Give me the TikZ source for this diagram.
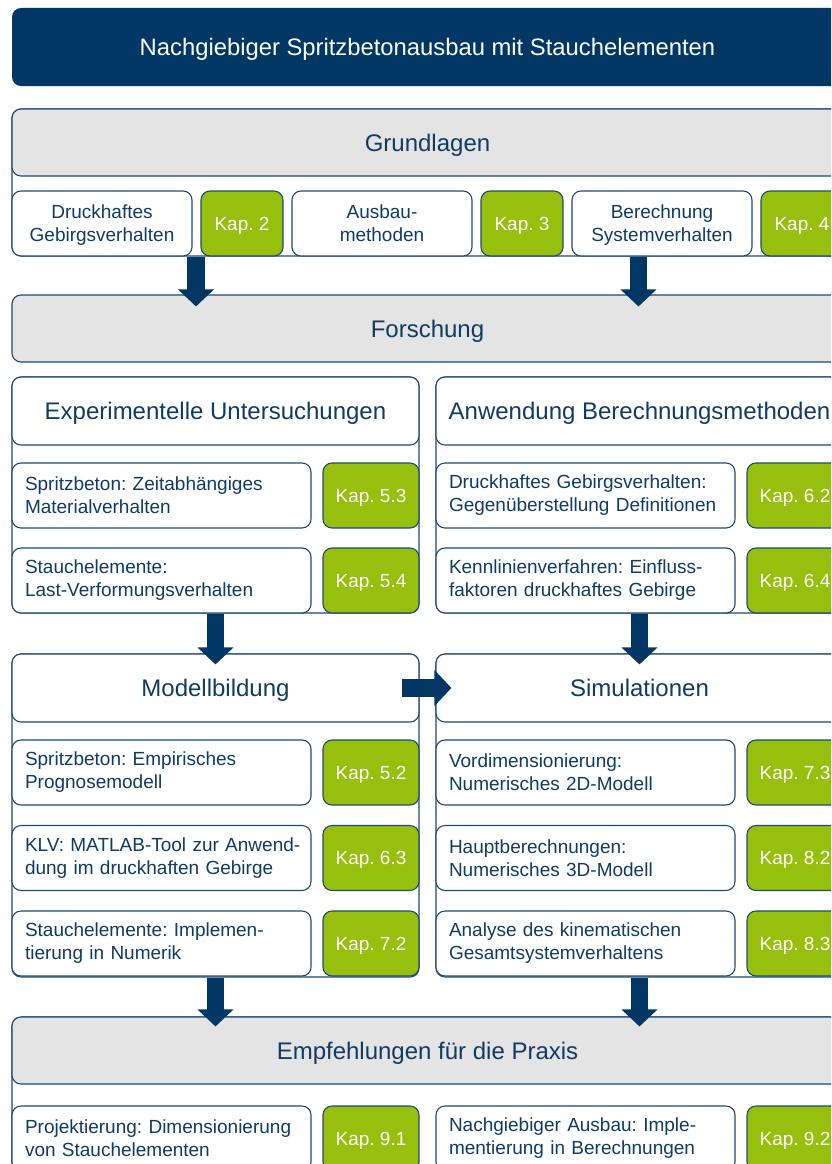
\documentclass[tikz,border=0pt]{standalone}
\usepackage{fontspec}
\setmainfont{Liberation Sans}
\usetikzlibrary{arrows.meta,calc}

\definecolor{navy}{HTML}{003764}
\definecolor{ink}{HTML}{0F3B64}
\definecolor{rim}{HTML}{1E4B73}
\definecolor{panel}{HTML}{E4E4E4}
\definecolor{kapgreen}{HTML}{97BF0D}

\tikzset{
  every node/.style={font=\fontsize{19}{23}\selectfont, text=ink},
  titlebox/.style={fill=navy, rounded corners=9pt, text=white, inner sep=0pt,
    minimum width=831pt, minimum height=78pt, text depth=0pt,
    font=\fontsize{23.8}{28}\selectfont},
  frame/.style={draw=rim, line width=1.1pt, rounded corners=9pt, fill=white, inner sep=0pt},
  headbox/.style={draw=rim, line width=1.1pt, rounded corners=9pt, fill=panel,
    inner sep=0pt, text depth=0pt, font=\fontsize{24}{28}\selectfont},
  colhead/.style={headbox, fill=white, minimum width=407pt, minimum height=68pt},
  topicbox/.style={draw=rim, line width=1.1pt, rounded corners=9pt, fill=white,
    minimum height=65pt, inner sep=0pt},
  basebox/.style={topicbox, minimum width=180pt, align=center, text depth=-1pt},
  leftbox/.style={topicbox, text width=273pt, align=left, inner xsep=13pt},
  kapbox/.style={draw=rim, line width=1.1pt, rounded corners=9pt, fill=kapgreen,
    text=white, minimum height=65pt, inner sep=0pt, text depth=-0.5pt},
  kapwide/.style={kapbox, minimum width=96pt},
  kapnarrow/.style={kapbox, minimum width=82pt},
  bigarrow/.style={navy, line width=17.5pt, -{Triangle[length=17pt,width=35pt]}},
}

\begin{document}
\frenchspacing
\begin{tikzpicture}[x=1pt, y=-1pt]
\useasboundingbox (0,0) rectangle (831,1164);
\clip (0,0) rectangle (831,1164);

% title bar
\node[titlebox] (title) at (427.5,47) {Nachgiebiger Spritzbetonausbau mit Stauchelementen};

% Grundlagen
\node[frame, minimum width=831pt, minimum height=147pt] (fgrund) at (427.5,182.5) {};
\node[headbox, minimum width=831pt, minimum height=67pt] (grund) at (427.5,142.5) {Grundlagen};
\node[basebox] (b1) at (102,223.5) {Druckhaftes\\Gebirgsverhalten};
\node[kapnarrow] (k2) at (242,223.5) {Kap. 2};
\node[basebox] (b2) at (382,223.5) {Ausbau-\\methoden};
\node[kapnarrow] (k3) at (522,223.5) {Kap. 3};
\node[basebox] (b3) at (662,223.5) {Berechnung\\Systemverhalten};
\node[kapnarrow] (k4) at (802,223.5) {Kap. 4};

% Forschung
\node[headbox, minimum width=831pt, minimum height=67pt] (forsch) at (427.5,328.5) {Forschung};

% Experimentelle Untersuchungen
\node[frame, minimum width=407pt, minimum height=236pt] (fexp) at (215.5,495) {};
\node[colhead] (exp) at (215.5,411) {Experimentelle Untersuchungen};
\node[leftbox] (e1) at (161.5,495.5) {\mbox{Spritzbeton: Zeitabhängiges}\\\mbox{Materialverhalten}};
\node[kapwide] (k53) at (371,495.5) {Kap. 5.3};
\node[leftbox] (e2) at (161.5,580.5) {\mbox{Stauchelemente:}\\\mbox{Last-Verformungsverhalten}};
\node[kapwide] (k54) at (371,580.5) {Kap. 5.4};

% Anwendung Berechnungsmethoden
\node[frame, minimum width=407pt, minimum height=236pt] (fanw) at (639.5,495) {};
\node[colhead] (anw) at (639.5,411) {Anwendung Berechnungsmethoden};
\node[leftbox] (w1) at (585.5,495.5) {\mbox{Druckhaftes Gebirgsverhalten:}\\\mbox{Gegenüberstellung Definitionen}};
\node[kapwide] (k62) at (795,495.5) {Kap. 6.2};
\node[leftbox] (w2) at (585.5,580.5) {\mbox{Kennlinienverfahren: Einfluss-}\\\mbox{faktoren druckhaftes Gebirge}};
\node[kapwide] (k64) at (795,580.5) {Kap. 6.4};

% Modellbildung
\node[frame, minimum width=407pt, minimum height=323pt] (fmod) at (215.5,815.5) {};
\node[colhead] (modell) at (215.5,688) {Modellbildung};
\node[leftbox] (m1) at (161.5,772.5) {\mbox{Spritzbeton: Empirisches}\\\mbox{Prognosemodell}};
\node[kapwide] (k52) at (371,772.5) {Kap. 5.2};
\node[leftbox] (m2) at (161.5,858) {\mbox{KLV: MATLAB-Tool zur Anwend-}\\\mbox{dung im druckhaften Gebirge}};
\node[kapwide] (k63) at (371,858) {Kap. 6.3};
\node[leftbox] (m3) at (161.5,943.5) {\mbox{Stauchelemente: Implemen-}\\\mbox{tierung in Numerik}};
\node[kapwide] (k72) at (371,943.5) {Kap. 7.2};

% Simulationen
\node[frame, minimum width=407pt, minimum height=323pt] (fsim) at (639.5,815.5) {};
\node[colhead] (simul) at (639.5,688) {Simulationen};
\node[leftbox] (s1) at (585.5,772.5) {\mbox{Vordimensionierung:}\\\mbox{Numerisches 2D-Modell}};
\node[kapwide] (k73) at (795,772.5) {Kap. 7.3};
\node[leftbox] (s2) at (585.5,858) {\mbox{Hauptberechnungen:}\\\mbox{Numerisches 3D-Modell}};
\node[kapwide] (k82) at (795,858) {Kap. 8.2};
\node[leftbox] (s3) at (585.5,943.5) {\mbox{Analyse des kinematischen}\\\mbox{Gesamtsystemverhaltens}};
\node[kapwide] (k83) at (795,943.5) {Kap. 8.3};

% Empfehlungen fuer die Praxis
\node[frame, minimum width=831pt, minimum height=155pt] (fempf) at (427.5,1094.5) {};
\node[headbox, minimum width=831pt, minimum height=67pt] (empf) at (427.5,1050.5) {Empfehlungen für die Praxis};
\node[leftbox] (p1) at (161.5,1138.5) {\mbox{Projektierung: Dimensionierung}\\\mbox{von Stauchelementen}};
\node[kapwide] (k91) at (371,1138.5) {Kap. 9.1};
\node[leftbox] (p2) at (585.5,1138.5) {\mbox{Nachgiebiger Ausbau: Imple-}\\\mbox{mentierung in Berechnungen}};
\node[kapwide] (k92) at (795,1138.5) {Kap. 9.2};

% flow arrows
\coordinate (a1s) at ($(fgrund.south)+(-231.5,0)$);
\coordinate (a1e) at ($(forsch.north)+(-231.5,12)$);
\coordinate (a2s) at ($(fgrund.south)+(211,0)$);
\coordinate (a2e) at ($(forsch.north)+(211,12)$);
\draw[bigarrow] (a1s) -- (a1e);
\draw[bigarrow] (a2s) -- (a2e);

\draw[bigarrow] (fexp.south) -- ($(modell.north)+(0,11)$);
\draw[bigarrow] (fanw.south) -- ($(simul.north)+(0,11)$);

\draw[bigarrow] ($(modell.east)+(-18,0)$) -- ($(simul.west)+(16,0)$);

\draw[bigarrow] (fmod.south) -- ($(empf.north -| fmod.south)+(0,10)$);
\draw[bigarrow] (fsim.south) -- ($(empf.north -| fsim.south)+(0,10)$);
\end{tikzpicture}
\end{document}
